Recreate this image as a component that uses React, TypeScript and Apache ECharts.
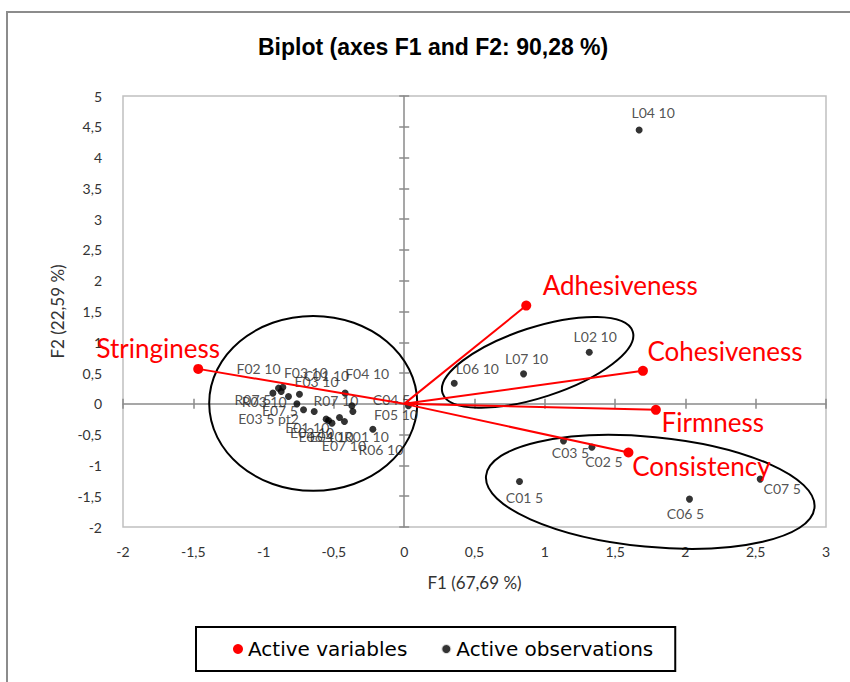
import React, { useEffect, useRef } from "react";
import * as echarts from "echarts";

// ---- Data ----
const obsNames = [
  "R07 5", "F02 10", "F03 10", "R03 10", "E03 10", "C01 10", "E07 5", "E03 5 pt2",
  "E01 10", "E02 10", "E06 10", "E07 10", "E04 10", "R01 10", "F04 10", "R07 10",
  "F05 10", "R06 10", "C04 5",
  "L04 10", "L02 10", "L07 10", "L06 10",
  "C03 5", "C02 5", "C01 5", "C06 5", "C07 5",
];
const obsF1 = [
  -0.934, -0.894, -0.863, -0.875, -0.823, -0.745, -0.763, -0.716,
  -0.64, -0.555, -0.538, -0.514, -0.46, -0.425, -0.42, -0.372,
  -0.365, -0.223, 0.03,
  1.671, 1.316, 0.849, 0.356,
  1.133, 1.335, 0.82, 2.029, 2.532,
];
const obsF2 = [
  0.174, 0.255, 0.271, 0.2, 0.119, 0.157, 0.0, -0.097,
  -0.125, -0.248, -0.271, -0.313, -0.222, -0.287, 0.174, -0.032,
  -0.125, -0.411, -0.03,
  4.448, 0.839, 0.487, 0.336,
  -0.601, -0.703, -1.261, -1.547, -1.222,
];

const varNames = ["Stringiness", "Adhesiveness", "Cohesiveness", "Firmness", "Consistency"];
const varF1 = [-1.465, 0.868, 1.698, 1.79, 1.595];
const varF2 = [0.568, 1.596, 0.536, -0.097, -0.79];

// ellipses: centre F1, centre F2, semi-axes (in F1 units), screen tilt in degrees
const ellipseCF1 = [-0.647, 0.949, 1.75];
const ellipseCF2 = [0.008, 0.674, -1.429];
const ellipseA = [0.74, 0.711, 1.174];
const ellipseB = [0.622, 0.249, 0.391];
const ellipseTilt = [0, 18, -5.5];

const xTickMin = -2, xTickMax = 3, yTickMin = -2, yTickMax = 5, tickStep = 0.5;

// ---- Label placement (pixel offsets of label centre from point) ----
const obsLabelDelta: Record<string, [number, number]> = {
  "R07 5": [-20, 6], "F02 10": [-20, -20], "F03 10": [23, -15], "R03 10": [-17, 10],
  "E03 10": [28, -15], "C01 10": [27, -19], "E07 5": [-17, 7], "E03 5 pt2": [-35, 9],
  "E01 10": [-7, 16], "E02 10": [-14, 13], "E06 10": [-8, 16], "E07 10": [12, 22],
  "E04 10": [-8, 19], "R01 10": [22, 15], "F04 10": [22, -20], "R07 10": [-16, -5],
  "F05 10": [43, 3], "R06 10": [8, 20], "C04 5": [-17, -6],
  "L04 10": [14, -17], "L02 10": [6, -16], "L07 10": [3, -15], "L06 10": [23, -15],
  "C03 5": [7, 12], "C02 5": [12, 14], "C01 5": [5, 16], "C06 5": [-4, 14], "C07 5": [22, 9],
};
const varLabelDelta: [number, number][] = [[-40, -21], [94, -21], [82, -20], [57, 12], [73, 14]];

const comma = (v: number) => String(v).replace(".", ",");
const LABEL_FONT = "Lato";

export default function App() {
  const ref = useRef<HTMLDivElement>(null);
  useEffect(() => {
    if (!ref.current) return;
    const chart = echarts.init(ref.current, undefined, { renderer: "svg" });

    const obsData = obsNames.map((n, i) => {
      const d = obsLabelDelta[n] || [0, -14];
      return {
        name: n,
        value: [obsF1[i], obsF2[i]],
        label: { position: [3.5 + d[0], 3.5 + d[1]] },
      };
    });

    const varSeries = varNames.map((n, i) => ({
      type: "line",
      name: "Active variables",
      xAxisIndex: 0,
      yAxisIndex: 0,
      z: 5,
      color: "#ff0000",
      lineStyle: { color: "#ff0000", width: 2 },
      itemStyle: { color: "#ff0000" },
      symbol: "circle",
      symbolSize: (_v: any, p: any) => (p.dataIndex === 0 ? 0 : 10),
      showSymbol: true,
      silent: true,
      data: [
        { value: [0, 0], label: { show: false } },
        {
          value: [varF1[i], varF2[i]],
          name: n,
          label: {
            show: true,
            formatter: n,
            position: [5 + varLabelDelta[i][0], 5 + varLabelDelta[i][1]],
            align: "center",
            verticalAlign: "middle",
            color: "#ff0000",
            fontSize: 26,
            fontFamily: LABEL_FONT,
          },
        },
      ],
    }));

    const baseX = { type: "value", min: xTickMin, max: xTickMax, interval: tickStep, splitLine: { show: false } };
    const baseY = { type: "value", min: yTickMin, max: yTickMax, interval: tickStep, splitLine: { show: false } };
    const tickLabel = { fontFamily: LABEL_FONT, fontSize: 14, color: "#333" };
    const axisName = { fontFamily: LABEL_FONT, fontSize: 17, color: "#333" };

    chart.setOption({
      animation: false,
      backgroundColor: "#fff",
      title: {
        text: "Biplot (axes F1 and F2: 90,28 %)",
        left: 258,
        top: 35,
        padding: 0,
        textStyle: { fontFamily: "Liberation Sans", fontWeight: "bold", fontSize: 23, color: "#000" },
      },
      graphic: [
        {
          type: "rect",
          silent: true,
          z: -10,
          shape: { x: 7, y: 12, width: 900, height: 800 },
          style: { fill: "none", stroke: "#8c8c8c", lineWidth: 2 },
        },
      ],
      legend: {
        left: 196,
        top: 627,
        orient: "horizontal",
        borderColor: "#000",
        borderWidth: 2,
        padding: [12, 22, 12, 37],
        itemGap: 33,
        itemWidth: 10,
        itemHeight: 10,
        textStyle: { fontFamily: "DejaVu Sans", fontSize: 20, color: "#000" },
        data: [
          { name: "Active variables", icon: "circle", itemStyle: { color: "#ff0000" } },
          { name: "Active observations", icon: "circle", itemStyle: { color: "#000", borderColor: "#fff", borderWidth: 2 } },
        ],
      },
      grid: {
        left: 123,
        top: 96,
        right: 24,
        bottom: 155,
        show: true,
        borderColor: "#c0c0c0",
        borderWidth: 1.5,
      },
      xAxis: [
        {
          ...baseX,
          position: "bottom",
          axisLine: { show: false, onZero: false },
          axisTick: { show: false },
          axisLabel: { ...tickLabel, margin: 17, formatter: comma },
          name: "F1 (67,69 %)",
          nameLocation: "middle",
          nameGap: 47,
          nameTextStyle: axisName,
        },
        {
          ...baseX,
          axisLine: { show: true, onZero: true, onZeroAxisIndex: 0, lineStyle: { color: "#8a8a8a", width: 1.5 } },
          axisTick: { show: true, inside: false, length: 5, lineStyle: { color: "#8a8a8a", width: 1.5 } },
          axisLabel: { show: false },
        },
        {
          ...baseX,
          axisLine: { show: false, onZero: true, onZeroAxisIndex: 0 },
          axisTick: { show: true, inside: true, length: 5, lineStyle: { color: "#8a8a8a", width: 1.5 } },
          axisLabel: { show: false },
        },
      ],
      yAxis: [
        {
          ...baseY,
          position: "left",
          axisLine: { show: false, onZero: false },
          axisTick: { show: false },
          axisLabel: { ...tickLabel, margin: 21, formatter: comma },
          name: "F2 (22,59 %)",
          nameLocation: "middle",
          nameGap: 55,
          nameTextStyle: axisName,
        },
        {
          ...baseY,
          axisLine: { show: true, onZero: true, onZeroAxisIndex: 0, lineStyle: { color: "#8a8a8a", width: 1.5 } },
          axisTick: { show: true, inside: false, length: 5, lineStyle: { color: "#8a8a8a", width: 1.5 } },
          axisLabel: { show: false },
        },
        {
          ...baseY,
          axisLine: { show: false, onZero: true, onZeroAxisIndex: 0 },
          axisTick: { show: true, inside: true, length: 5, lineStyle: { color: "#8a8a8a", width: 1.5 } },
          axisLabel: { show: false },
        },
      ],
      series: [
        {
          type: "custom",
          name: "ellipses",
          xAxisIndex: 0,
          yAxisIndex: 0,
          clip: false,
          silent: true,
          z: 3,
          data: ellipseCF1.map((c, i) => [c, ellipseCF2[i], ellipseA[i], ellipseB[i], ellipseTilt[i]]),
          renderItem: (_p: any, api: any) => {
            const c = api.coord([api.value(0), api.value(1)]);
            const unit = api.size([1, 0])[0];
            return {
              type: "ellipse",
              x: c[0],
              y: c[1],
              rotation: (api.value(4) * Math.PI) / 180,
              shape: { cx: 0, cy: 0, rx: api.value(2) * unit, ry: api.value(3) * unit },
              style: { fill: "none", stroke: "#000", lineWidth: 2 },
            };
          },
        },
        {
          type: "scatter",
          name: "Active observations",
          xAxisIndex: 0,
          yAxisIndex: 0,
          z: 4,
          symbol: "circle",
          symbolSize: 7,
          itemStyle: { color: "#000" },
          silent: true,
          label: {
            show: true,
            formatter: "{b}",
            align: "center",
            verticalAlign: "middle",
            fontFamily: LABEL_FONT,
            fontSize: 14,
            color: "#262626",
          },
          data: obsData,
        },
        ...varSeries,
      ],
    });
    return () => chart.dispose();
  }, []);

  return (
    <div
      ref={ref}
      style={{ position: "fixed", left: 0, top: 0, width: 850, height: 682 }}
    />
  );
}
